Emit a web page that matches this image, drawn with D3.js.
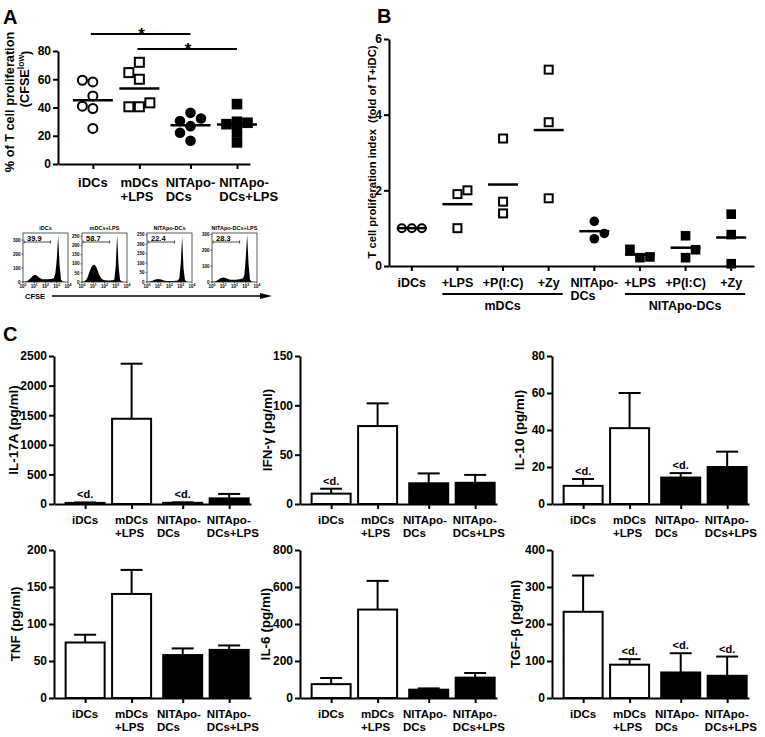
<!DOCTYPE html>
<html><head><meta charset="utf-8">
<script src="https://cdn.jsdelivr.net/npm/d3@7"></script>
<style>
body{margin:0;background:#fff}
svg{display:block}
text{font-family:"Liberation Sans",Arial,sans-serif;font-weight:bold;fill:#000}
</style>
</head><body><script>
// ================= DATA =================
// Panel A: % of T cell proliferation (CFSE low)
const groupsA = ["iDCs", "mDCs\n+LPS", "NITApo-\nDCs", "NITApo-\nDCs+LPS"];
const prolifIDC = [59.3, 58.1, 48.2, 40.9, 39.3, 25.2];
const prolifMDC = [72.0, 64.7, 60.0, 43.3, 40.5, 40.5];
const prolifNIT = [36.2, 32.2, 30.4, 26.8, 22.1, 16.5];
const prolifNITLPS = [42.4, 29.9, 29.2, 28.2, 22.8, 15.3];
const ticksA = [0, 20, 40, 60, 80];
const sigPairsA = [[0, 2], [1, 3]];

// Panel A inset: CFSE histograms (counts per log10 bin, 0..4 step 0.125)
const histTitles = ["iDCs", "mDCs+LPS", "NITApo-DCs", "NITApo-DCs+LPS"];
const histGates = ["39.9", "58.7", "22.4", "28.3"];
const histIDC    = [1,2,4,8,14,24,34,44,50,50,44,36,28,23,20,19,19,20,20,21,22,24,28,60,160,330,120,20,4,1,0,0,0];
const histMDC    = [1,2,5,12,26,48,70,86,94,95,86,66,44,28,18,13,10,9,8,8,8,9,10,14,90,260,90,14,3,1,0,0,0];
const histNIT    = [0,1,2,4,7,10,13,15,16,15,13,10,8,6,5,5,5,5,5,5,6,7,9,20,100,240,70,10,2,0,0,0,0];
const histNITLPS = [0,1,3,6,11,17,23,27,28,27,24,20,17,15,14,14,15,15,16,17,18,20,24,45,150,300,110,16,3,1,0,0,0];
const histTicks = [[0,100,200,300],[0,50,100,150,200,250],[0,50,100,150,200,250],[0,100,200,300]];
const histMax = [350, 270, 260, 310];
const histDecades = [0, 1, 2, 3, 4];

// Panel B: T cell proliferation index (fold of T+iDC)
const groupsB = ["iDCs", "+LPS", "+P(I:C)", "+Zy", "NITApo-\nDCs", "+LPS", "+P(I:C)", "+Zy"];
const indexIDC    = [1.0, 1.0, 1.0];
const indexMLPS   = [2.0, 1.9, 1.0];
const indexMPIC   = [3.37, 1.70, 1.39];
const indexMZY    = [5.19, 3.80, 1.79];
const indexNIT    = [1.18, 0.72, 0.86];
const indexNLPS   = [0.44, 0.22, 0.24];
const indexNPIC   = [0.80, 0.22, 0.43];
const indexNZY    = [1.37, 0.83, 0.06];
const ticksB = [0, 2, 4, 6];
const bracketLabelsB = ["mDCs", "NITApo-DCs"];
const bracketSpansB = [[1, 3], [5, 7]];

// Panel C: cytokines (mean, SEM, below detection flag)
const cytoGroups = ["iDCs", "mDCs\n+LPS", "NITApo-\nDCs", "NITApo-\nDCs+LPS"];
const il17aMean = [18, 1440, 20, 95],   il17aSem = [8, 930, 8, 75],    il17aLod = [1,0,1,0];
const ifngMean  = [10.5, 79, 21, 21.5], ifngSem  = [5, 23, 10, 8],     ifngLod  = [1,0,0,0];
const il10Mean  = [9.8, 41, 14.3, 20],  il10Sem  = [3.7, 19, 2.4, 8.3], il10Lod = [1,0,1,0];
const tnfMean   = [75, 140.6, 58, 65],  tnfSem   = [10.5, 32.5, 9, 6], tnfLod   = [0,0,0,0];
const il6Mean   = [75, 478, 45, 110],   il6Sem   = [33, 155, 7, 25],   il6Lod   = [0,0,0,0];
const tgfbMean  = [233, 90, 69, 60],    tgfbSem  = [98, 15, 52, 52],   tgfbLod  = [0,1,1,1];
const ticksIL17A = [0, 500, 1000, 1500, 2000, 2500];
const ticksIFNG  = [0, 50, 100, 150];
const ticksIL10  = [0, 20, 40, 60, 80];
const ticksTNF   = [0, 50, 100, 150, 200];
const ticksIL6   = [0, 200, 400, 600, 800];
const ticksTGFB  = [0, 100, 200, 300, 400];

// ================= DRAWING =================
const svg = d3.select("body").append("svg").attr("width", 765).attr("height", 737);
const fmt = d3.format("d");

function styleAxis(g, fs) {
  g.attr("font-family", null).attr("font-size", fs);
  g.select(".domain").attr("stroke", "#000").attr("stroke-width", 2);
  g.selectAll(".tick line").attr("stroke", "#000").attr("stroke-width", 2);
}
// multi-line category labels: left-aligned blocks centred on ticks, overlaps resolved
function labelRow(parent, centers, labels, yBase, fs, lh, gap, split) {
  const blocks = labels.map((lab, i) => {
    const t = parent.append("text").attr("font-size", fs);
    const spans = lab.split("\n").map((l, k) => t.append("tspan").attr("y", yBase + k * lh).text(l));
    const w = d3.max(spans, s => s.node().getComputedTextLength());
    return {spans, w, left: centers[i] - w / 2};
  });
  for (let i = 1; i < blocks.length; i++) {
    const ov = blocks[i - 1].left + blocks[i - 1].w + gap - blocks[i].left;
    if (ov > 0) {
      if (split) { blocks[i - 1].left -= ov / 2; blocks[i].left += ov / 2; }
      else blocks[i].left += ov;
    }
  }
  blocks.forEach(b => b.spans.forEach(s => s.attr("x", b.left)));
}
// greedy dodge for scatter points (slot offsets)
function dodge(values, ys, minDist, order) {
  const idx = values.map((v, i) => i).sort((a, b) => values[a] - values[b]);
  const placed = [];
  const out = new Array(values.length);
  idx.forEach(i => {
    const py = ys(values[i]);
    for (const o of order) {
      if (!placed.some(p => p.o === o && Math.abs(p.y - py) < minDist)) {
        placed.push({o, y: py}); out[i] = o; break;
      }
    }
  });
  return out;
}
function drawMarker(g, kind, x, y, s) {
  const open = kind.endsWith("open");
  if (kind.startsWith("circle")) {
    g.append("circle").attr("cx", x).attr("cy", y).attr("r", open ? s / 2 - 0.5 : s / 2 + 0.3)
      .attr("fill", open ? "#fff" : "#000").attr("stroke", "#000").attr("stroke-width", open ? 2 : 0);
  } else {
    const h = open ? s / 2 - 0.5 : s / 2 + 0.3;
    g.append("rect").attr("x", x - h).attr("y", y - h).attr("width", 2 * h).attr("height", 2 * h)
      .attr("fill", open ? "#fff" : "#000").attr("stroke", "#000").attr("stroke-width", open ? 2 : 0);
  }
}

// ---------- Panel letters ----------
svg.append("text").attr("x", 3).attr("y", 24).attr("font-size", 20).text("A");
svg.append("text").attr("x", 377).attr("y", 23).attr("font-size", 20).text("B");
svg.append("text").attr("x", 3).attr("y", 341).attr("font-size", 20).text("C");

// ---------- Panel A scatter ----------
(function () {
  const g = svg.append("g");
  const slots = [0, 1, 2.1, 3.1];
  const x = d3.scaleLinear().domain([-0.75, 3.38]).range([58, 250]);
  const y = d3.scaleLinear().domain([0, 80]).range([164, 51]);
  const series = [prolifIDC, prolifMDC, prolifNIT, prolifNITLPS];
  const kinds = ["circle-open", "square-open", "circle-filled", "square-filled"];
  series.forEach((vals, i) => {
    const off = dodge(vals, y, 10, [0, -1, 1]);
    vals.forEach((v, j) => drawMarker(g, kinds[i], x(slots[i]) + off[j] * 10.5, y(v), 10));
    const m = d3.mean(vals);
    g.append("line").attr("x1", x(slots[i]) - 20).attr("x2", x(slots[i]) + 20)
      .attr("y1", y(m)).attr("y2", y(m)).attr("stroke", "#000").attr("stroke-width", 2.5);
  });
  const ya = g.append("g").attr("transform", "translate(58,0)")
    .call(d3.axisLeft(y).tickValues(ticksA).tickFormat(fmt).tickSize(5).tickSizeOuter(0).tickPadding(2));
  styleAxis(ya, 12);
  const xa = g.append("g").attr("transform", "translate(0,164)")
    .call(d3.axisBottom(x).tickValues(slots).tickSize(5).tickSizeOuter(0).tickFormat(""));
  styleAxis(xa, 12);
  labelRow(g, slots.map(x), groupsA, 187, 13, 13.5, 4, false);
  // significance bars
  const sigY = [34, 49];
  sigPairsA.forEach((p, k) => {
    g.append("line").attr("x1", x(slots[p[0]]) - 2).attr("x2", x(slots[p[1]]))
      .attr("y1", sigY[k]).attr("y2", sigY[k]).attr("stroke", "#000").attr("stroke-width", 2);
    g.append("text").attr("x", (x(slots[p[0]]) + x(slots[p[1]])) / 2).attr("y", sigY[k] + 6)
      .attr("text-anchor", "middle").attr("font-size", 17).text("*");
  });
  // y title
  g.append("text").attr("transform", "translate(10,102) rotate(-90)").attr("dy", "0.35em")
    .attr("text-anchor", "middle").attr("font-size", 12.7).text("% of T cell proliferation");
  const t2 = g.append("text").attr("transform", "translate(25,79) rotate(-90)").attr("dy", "0.35em")
    .attr("text-anchor", "middle").attr("font-size", 12.7);
  t2.append("tspan").text("(CFSE");
  t2.append("tspan").attr("font-size", 8.5).attr("dy", "-0.6em").text("low");
  t2.append("tspan").attr("dy", "0.45em").text(")");
})();

// ---------- Panel A inset histograms ----------
(function () {
  const hists = [histIDC, histMDC, histNIT, histNITLPS];
  const lefts = [23, 82, 147, 212];
  const bw = 45, top = 233, bottom = 282;
  hists.forEach((h, i) => {
    const g = svg.append("g");
    const x = d3.scaleLinear().domain([0, 4]).range([lefts[i], lefts[i] + bw]);
    const y = d3.scaleLinear().domain([0, histMax[i]]).range([bottom, top]);
    const area = d3.area().x((d, k) => x(k * 0.125)).y0(bottom).y1(d => y(d));
    g.append("path").datum(h).attr("d", area).attr("fill", "#000");
    g.append("rect").attr("x", lefts[i]).attr("y", top).attr("width", bw).attr("height", bottom - top)
      .attr("fill", "none").attr("stroke", "#333").attr("stroke-width", 0.8);
    g.append("text").attr("x", lefts[i] + bw / 2).attr("y", top - 3).attr("text-anchor", "middle")
      .attr("font-size", 5.5).text(histTitles[i]);
    histTicks[i].forEach(t => {
      g.append("line").attr("x1", lefts[i] - 1.5).attr("x2", lefts[i]).attr("y1", y(t)).attr("y2", y(t))
        .attr("stroke", "#000").attr("stroke-width", 0.6);
      g.append("text").attr("x", lefts[i] - 2.5).attr("y", y(t) + 1.6).attr("text-anchor", "end")
        .attr("font-size", 4.5).text(t);
    });
    histDecades.forEach(dk => {
      g.append("line").attr("x1", x(dk)).attr("x2", x(dk)).attr("y1", bottom).attr("y2", bottom + 1.5)
        .attr("stroke", "#000").attr("stroke-width", 0.6);
      const tt = g.append("text").attr("x", x(dk)).attr("y", bottom + 6).attr("text-anchor", "middle")
        .attr("font-size", 4.5);
      tt.append("tspan").text("10");
      tt.append("tspan").attr("dy", -2).attr("font-size", 3.5).text(dk);
    });
    const gx1 = x(0.1), gx2 = x(2.45), gy = top + 9;
    g.append("line").attr("x1", gx1).attr("x2", gx2).attr("y1", gy).attr("y2", gy).attr("stroke", "#000").attr("stroke-width", 0.7);
    [gx1, gx2].forEach(xx => g.append("line").attr("x1", xx).attr("x2", xx).attr("y1", gy - 1.5).attr("y2", gy + 1.5)
      .attr("stroke", "#000").attr("stroke-width", 0.7));
    g.append("text").attr("x", lefts[i] + 4).attr("y", gy - 1.5).attr("font-size", 7.5).text(histGates[i]);
  });
  svg.append("text").attr("x", 25).attr("y", 299).attr("font-size", 7.5).text("CFSE");
  svg.append("line").attr("x1", 52).attr("x2", 262).attr("y1", 296).attr("y2", 296).attr("stroke", "#000").attr("stroke-width", 1.3);
  svg.append("path").attr("d", "M260,293 L272,296 L260,299 Z").attr("fill", "#000");
})();

// ---------- Panel B ----------
(function () {
  const g = svg.append("g");
  const x = d3.scaleBand().domain(d3.range(groupsB.length)).range([389, 754]);
  const cx = i => x(i) + x.bandwidth() / 2;
  const y = d3.scaleLinear().domain([0, 6]).range([266, 39]);
  const series = [indexIDC, indexMLPS, indexMPIC, indexMZY, indexNIT, indexNLPS, indexNPIC, indexNZY];
  const kinds = ["circle-open", "square-open", "square-open", "square-open", "circle-filled", "square-filled", "square-filled", "square-filled"];
  series.forEach((vals, i) => {
    const off = dodge(vals, y, 10, [0, 1, -1]);
    vals.forEach((v, j) => drawMarker(g, kinds[i], cx(i) + off[j] * 10, y(v), 9));
    const m = d3.mean(vals);
    g.append("line").attr("x1", cx(i) - 15).attr("x2", cx(i) + 15)
      .attr("y1", y(m)).attr("y2", y(m)).attr("stroke", "#000").attr("stroke-width", 2.5);
  });
  const ya = g.append("g").attr("transform", "translate(389,0)")
    .call(d3.axisLeft(y).tickValues(ticksB).tickFormat(fmt).tickSize(5).tickSizeOuter(0).tickPadding(2));
  styleAxis(ya, 12);
  const xa = g.append("g").attr("transform", "translate(0,266)")
    .call(d3.axisBottom(x).tickSize(5).tickSizeOuter(0).tickFormat(""));
  styleAxis(xa, 12);
  labelRow(g, d3.range(groupsB.length).map(cx), groupsB, 287, 12.5, 13, 3, true);
  bracketSpansB.forEach((sp, k) => {
    const x1 = cx(sp[0]) - 15, x2 = cx(sp[1]) + 14;
    g.append("line").attr("x1", x1).attr("x2", x2).attr("y1", 294).attr("y2", 294)
      .attr("stroke", "#000").attr("stroke-width", 2);
    g.append("text").attr("x", (x1 + x2) / 2).attr("y", 310).attr("text-anchor", "middle")
      .attr("font-size", 12.5).text(bracketLabelsB[k]);
  });
  g.append("text").attr("transform", "translate(372,152) rotate(-90)").attr("dy", "0.35em")
    .attr("text-anchor", "middle").attr("font-size", 11.2).attr("xml:space", "preserve")
    .text("T cell proliferation index  (fold of T+iDC)");
})();

// ---------- Panel C bar charts ----------
function barChart(x0, y0, title, titleOff, means, sems, lod, ticks) {
  const g = svg.append("g");
  const slots = [0, 1, 2.1, 3.1];
  const x = d3.scaleLinear().domain([-0.67, 3.57]).range([x0, x0 + 197]);
  const y = d3.scaleLinear().domain([0, d3.max(ticks)]).range([y0, y0 - 148]);
  means.forEach((m, i) => {
    const c = x(slots[i]);
    const top = y(m + sems[i]);
    g.append("line").attr("x1", c).attr("x2", c).attr("y1", y(m)).attr("y2", top)
      .attr("stroke", "#000").attr("stroke-width", 2);
    g.append("line").attr("x1", c - 11).attr("x2", c + 11).attr("y1", top).attr("y2", top)
      .attr("stroke", "#000").attr("stroke-width", 2);
    g.append("rect").attr("x", c - 19.5).attr("y", y(m)).attr("width", 39).attr("height", y0 - y(m))
      .attr("fill", i < 2 ? "#fff" : "#000").attr("stroke", "#000").attr("stroke-width", 2);
    if (lod[i]) g.append("text").attr("x", c).attr("y", top - 4).attr("text-anchor", "middle")
      .attr("font-size", 11).text("<d.");
  });
  const ya = g.append("g").attr("transform", `translate(${x0},0)`)
    .call(d3.axisLeft(y).tickValues(ticks).tickFormat(fmt).tickSize(5).tickSizeOuter(0).tickPadding(2));
  styleAxis(ya, 12);
  const xa = g.append("g").attr("transform", `translate(0,${y0})`)
    .call(d3.axisBottom(x).tickValues(slots).tickSize(5).tickSizeOuter(0).tickFormat(""));
  styleAxis(xa, 12);
  labelRow(g, slots.map(x), cytoGroups, y0 + 19.5, 11.5, 13, 6, true);
  g.append("text").attr("transform", `translate(${x0 - titleOff},${y0 - 74}) rotate(-90)`).attr("dy", "0.35em")
    .attr("text-anchor", "middle").attr("font-size", 13.5).text(title);
}
barChart(54, 504, "IL-17A (pg/ml)", 41, il17aMean, il17aSem, il17aLod, ticksIL17A);
barChart(300, 504, "IFN-\u03B3 (pg/ml)", 33, ifngMean, ifngSem, ifngLod, ticksIFNG);
barChart(552, 504, "IL-10 (pg/ml)", 33, il10Mean, il10Sem, il10Lod, ticksIL10);
barChart(54, 698, "TNF (pg/ml)", 39, tnfMean, tnfSem, tnfLod, ticksTNF);
barChart(300, 698, "IL-6 (pg/ml)", 35, il6Mean, il6Sem, il6Lod, ticksIL6);
barChart(552, 698, "TGF-\u03B2 (pg/ml)", 37, tgfbMean, tgfbSem, tgfbLod, ticksTGFB);
</script></body></html>
